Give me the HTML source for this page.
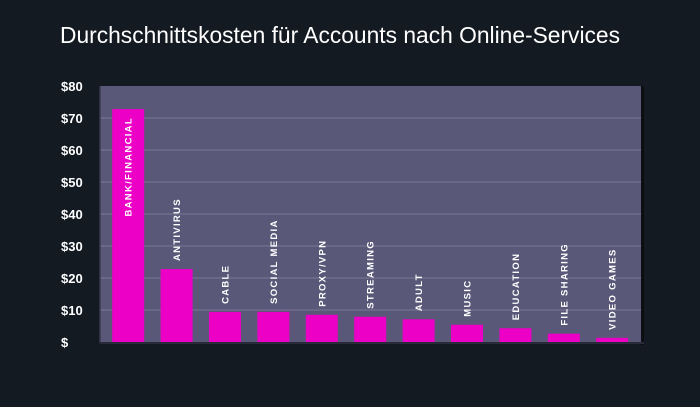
<!DOCTYPE html>
<html><head><meta charset="utf-8"><style>
html,body{margin:0;padding:0;background:#131a22;width:700px;height:407px;overflow:hidden}
svg{display:block}
</style></head><body>
<svg id="chart" width="700" height="407" xmlns="http://www.w3.org/2000/svg">
<rect width="700" height="407" fill="#131a22"/>
<text x="60" y="43" fill="#ffffff" font-family="'Liberation Sans',sans-serif" font-size="23" textLength="560" lengthAdjust="spacingAndGlyphs">Durchschnittskosten für Accounts nach Online-Services</text>
<rect x="100" y="86" width="541" height="257" fill="#5a5879"/>
<rect x="641" y="86" width="3" height="259" fill="#0b0f14"/>
<g id="grid"></g><g id="yticks"></g><g id="bars"></g>
<line x1="100" y1="86" x2="100" y2="343" stroke="#3a3950" stroke-width="1.5"/>
<line x1="100" y1="343" x2="644" y2="343" stroke="#2a2a3a" stroke-width="2"/>
</svg>
<script>
const categories = ["BANK/FINANCIAL","ANTIVIRUS","CABLE","SOCIAL MEDIA","PROXY/VPN","STREAMING","ADULT","MUSIC","EDUCATION","FILE SHARING","VIDEO GAMES"];
const values = [72.8,22.8,9.4,9.4,8.5,7.9,7.1,5.4,4.3,2.6,1.3];
const tickValues = [0,10,20,30,40,50,60,70,80];
const tickLabels = ["$","$10","$20","$30","$40","$50","$60","$70","$80"];
const NS="http://www.w3.org/2000/svg";
const y0=342, yTop=86, vMax=80;
function yScale(v){return y0-(v/vMax)*(y0-yTop);}
const bandStart=104, band=48.4, barW=32;
function xCenter(i){return bandStart+band*(i+0.5);}
const grid=document.getElementById('grid'), yt=document.getElementById('yticks'), bars=document.getElementById('bars');
tickValues.forEach((t,i)=>{
  if(t>0&&t<vMax){
    const l=document.createElementNS(NS,'line');
    
    
    l.setAttribute('x1',100);l.setAttribute('x2',641);
    l.setAttribute('y1',yScale(t));l.setAttribute('y2',yScale(t));
    l.setAttribute('stroke','#7a7894');l.setAttribute('stroke-width','1');
    grid.appendChild(l);
  }
  const tx=document.createElementNS(NS,'text');
  
  
  tx.setAttribute('x',61);tx.setAttribute('y',yScale(t)+5);
  tx.setAttribute('fill','#ffffff');tx.setAttribute('font-family',"'Liberation Sans',sans-serif");
  tx.setAttribute('font-weight','bold');tx.setAttribute('font-size','13');
  tx.textContent=tickLabels[i];
  yt.appendChild(tx);
});
values.forEach((v,i)=>{
  const cx=xCenter(i), top=yScale(v);
  const r=document.createElementNS(NS,'rect');
  
  
  r.setAttribute('x',cx-barW/2);r.setAttribute('y',top);
  r.setAttribute('width',barW);r.setAttribute('height',y0-top);
  r.setAttribute('fill','#ec00c6');
  bars.appendChild(r);
  const t=document.createElementNS(NS,'text');
  
  
  const inside = (y0-top)>150;
  const ty = inside ? top+8 : top-8;
  t.setAttribute('transform','translate('+(cx+3.5)+','+ty+') rotate(-90)');
  t.setAttribute('text-anchor',inside?'end':'start');
  t.setAttribute('fill','#ffffff');t.setAttribute('font-family',"'Liberation Sans',sans-serif");
  t.setAttribute('font-weight','bold');t.setAttribute('font-size','9.5');t.setAttribute('letter-spacing','1.3');
  t.textContent=categories[i];
  bars.appendChild(t);
});
</script>
</body></html>
